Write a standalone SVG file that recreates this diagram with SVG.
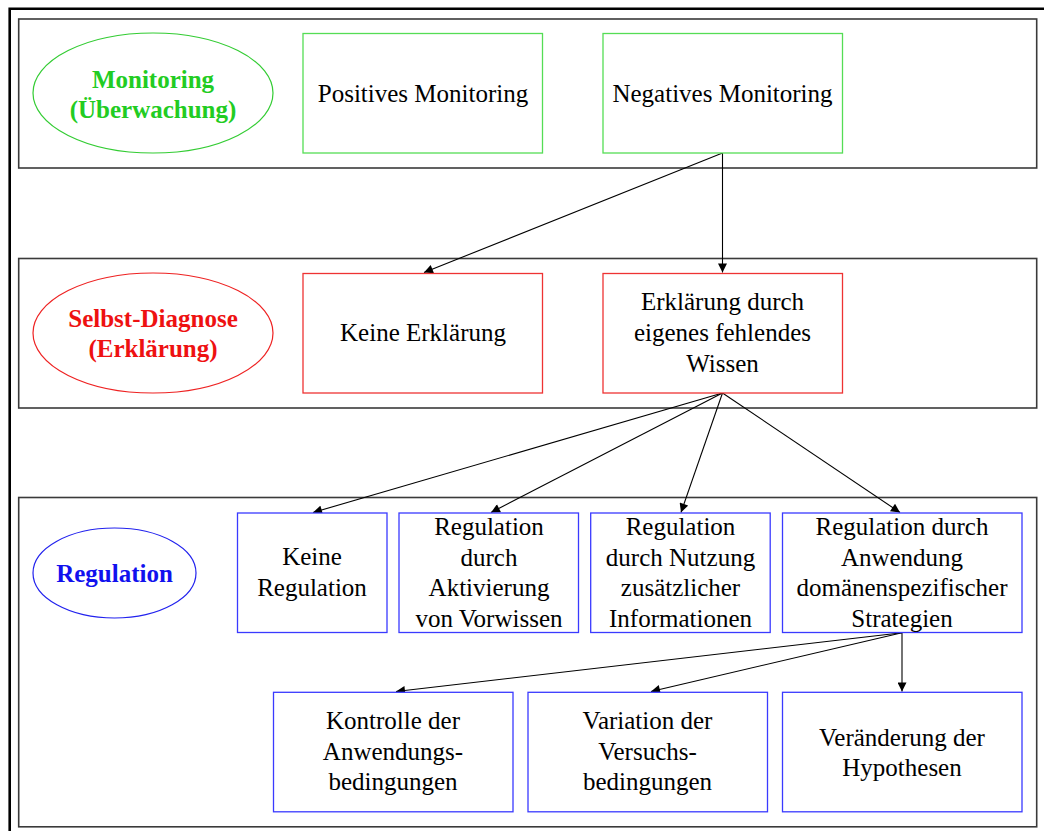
<svg xmlns="http://www.w3.org/2000/svg" width="1044" height="831" viewBox="0 0 1044 831">
<defs>
<style>
.band{fill:none;stroke:#3a3a3a;stroke-width:1.6}
.t{font-family:"Liberation Serif","Times New Roman",serif;font-size:25px;fill:#000;text-anchor:middle}
.h{font-family:"Liberation Serif","Times New Roman",serif;font-size:25px;font-weight:bold;text-anchor:middle}
.g{stroke:#55dd55;stroke-width:1.3;fill:#fff}
.r{stroke:#ee3333;stroke-width:1.3;fill:#fff}
.b{stroke:#3a3aff;stroke-width:1.3;fill:#fff}
.c{stroke:#000;stroke-width:1.1;fill:none;marker-end:url(#ah)}
</style>
<marker id="ah" viewBox="0 0 10 10" refX="10" refY="5" markerWidth="10" markerHeight="9" markerUnits="userSpaceOnUse" orient="auto">
<path d="M0,0 L10,5 L0,10 z" fill="#000"/>
</marker>
</defs>
<rect width="1044" height="831" fill="#fff"/>
<path d="M9.7,840 V8.7 H1050" fill="none" stroke="#000" stroke-width="2.6"/>
<g id="bands">
<rect class="band" x="18.7" y="19" width="1018" height="149"/>
<rect class="band" x="18.7" y="258.5" width="1018" height="149.5"/>
<rect class="band" x="18.7" y="497.5" width="1018" height="329.3"/>
</g>
<g id="connectors">
<line class="c" x1="722.5" y1="153" x2="424" y2="272.5"/>
<line class="c" x1="722.5" y1="153" x2="722.5" y2="272.5"/>
<line class="c" x1="722.5" y1="393" x2="313" y2="512.5"/>
<line class="c" x1="722.5" y1="393" x2="491" y2="512.5"/>
<line class="c" x1="722.5" y1="393" x2="681" y2="512.5"/>
<line class="c" x1="722.5" y1="393" x2="900" y2="512.5"/>
<line class="c" x1="902" y1="632.7" x2="396" y2="691.5"/>
<line class="c" x1="902" y1="632.7" x2="651" y2="691.5"/>
<line class="c" x1="902" y1="632.7" x2="902" y2="691.5"/>
</g>
<g id="monitoring">
<ellipse cx="153" cy="93" rx="120" ry="60" fill="#fff" stroke="#33cc33" stroke-width="1.2"/>
<text class="h" x="153" y="88" fill="#22cc22">Monitoring</text>
<text class="h" x="153" y="118" fill="#22cc22">(Überwachung)</text>
</g>
<g id="pos-monitoring">
<rect class="g" x="303" y="33.5" width="239.5" height="119.5"/>
<text class="t" x="423" y="102">Positives Monitoring</text>
</g>
<g id="neg-monitoring">
<rect class="g" x="603" y="33.5" width="239.5" height="119.5"/>
<text class="t" x="722.5" y="102">Negatives Monitoring</text>
</g>
<g id="selbst-diagnose">
<ellipse cx="153" cy="333" rx="120" ry="60" fill="#fff" stroke="#ee2222" stroke-width="1.2"/>
<text class="h" x="153" y="327" fill="#ee1111">Selbst-Diagnose</text>
<text class="h" x="153" y="357" fill="#ee1111">(Erklärung)</text>
</g>
<g id="keine-erklaerung">
<rect class="r" x="303" y="273.5" width="239.5" height="119.5"/>
<text class="t" x="423" y="341">Keine Erklärung</text>
</g>
<g id="erklaerung-wissen">
<rect class="r" x="603" y="273.5" width="239.5" height="119.5"/>
<text class="t" x="722.5" y="310">Erklärung durch</text>
<text class="t" x="722.5" y="341">eigenes fehlendes</text>
<text class="t" x="722.5" y="372">Wissen</text>
</g>
<g id="regulation">
<ellipse cx="114.5" cy="573" rx="81.5" ry="45" fill="#fff" stroke="#2222ee" stroke-width="1.2"/>
<text class="h" x="114.5" y="581.5" fill="#1111ee">Regulation</text>
</g>
<g id="keine-regulation">
<rect class="b" x="237.5" y="513" width="149.5" height="119.5"/>
<text class="t" x="312" y="565">Keine</text>
<text class="t" x="312" y="596">Regulation</text>
</g>
<g id="reg-vorwissen">
<rect class="b" x="399" y="513" width="179.5" height="119.5"/>
<text class="t" x="489" y="535">Regulation</text>
<text class="t" x="489" y="565.5">durch</text>
<text class="t" x="489" y="596">Aktivierung</text>
<text class="t" x="489" y="626.5">von Vorwissen</text>
</g>
<g id="reg-nutzung">
<rect class="b" x="590.7" y="513" width="179.5" height="119.5"/>
<text class="t" x="680.5" y="535">Regulation</text>
<text class="t" x="680.5" y="565.5">durch Nutzung</text>
<text class="t" x="680.5" y="596">zusätzlicher</text>
<text class="t" x="680.5" y="626.5">Informationen</text>
</g>
<g id="reg-anwendung">
<rect class="b" x="782.5" y="513" width="239.5" height="119.5"/>
<text class="t" x="902" y="535">Regulation durch</text>
<text class="t" x="902" y="565.5">Anwendung</text>
<text class="t" x="902" y="596">domänenspezifischer</text>
<text class="t" x="902" y="626.5">Strategien</text>
</g>
<g id="kontrolle">
<rect class="b" x="273.5" y="692.3" width="239.5" height="119.5"/>
<text class="t" x="393" y="729">Kontrolle der</text>
<text class="t" x="393" y="760">Anwendungs-</text>
<text class="t" x="393" y="790">bedingungen</text>
</g>
<g id="variation">
<rect class="b" x="528" y="692.3" width="239.5" height="119.5"/>
<text class="t" x="647.5" y="729">Variation der</text>
<text class="t" x="647.5" y="760">Versuchs-</text>
<text class="t" x="647.5" y="790">bedingungen</text>
</g>
<g id="hypothesen">
<rect class="b" x="782.5" y="692.3" width="239.5" height="119.5"/>
<text class="t" x="902" y="746">Veränderung der</text>
<text class="t" x="902" y="776">Hypothesen</text>
</g>
</svg>
